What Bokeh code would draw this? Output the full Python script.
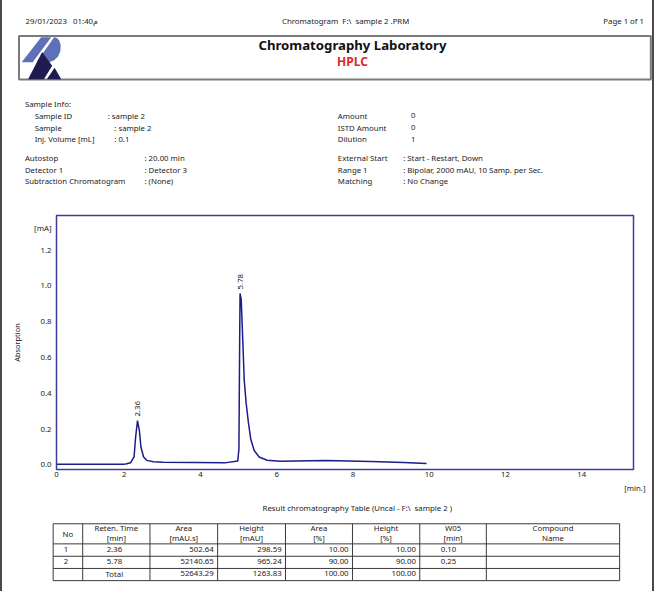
import numpy as np
from bokeh.plotting import figure
from bokeh.layouts import column
from bokeh.models import Range1d, FixedTicker, PrintfTickFormatter, Title
from bokeh.core.properties import value
from bokeh.embed import file_html
from bokeh.resources import INLINE

# ---------------- data ----------------
time_min = [0.23, 1.00, 2.00, 2.04, 2.17, 2.26, 2.30, 2.35, 2.40, 2.44, 2.51, 2.59, 2.77,
            3.02, 3.87, 4.64, 4.98, 5.01, 5.03, 5.04, 5.07, 5.11, 5.15, 5.20, 5.26, 5.32,
            5.41, 5.54, 5.75, 6.09, 7.28, 8.48, 9.33, 9.93]
absorb = [0.002, 0.002, 0.002, 0.003, 0.010, 0.043, 0.152, 0.245, 0.187, 0.096, 0.042, 0.023, 0.015,
          0.013, 0.011, 0.009, 0.020, 0.087, 0.700, 0.955, 0.922, 0.700, 0.468, 0.341, 0.232, 0.142,
          0.078, 0.042, 0.024, 0.018, 0.022, 0.016, 0.011, 0.005]
peak_labels = ["2.36", "5.78"]
x_ticks = [0, 2, 4, 6, 8, 10, 12, 14]
y_ticks = [0.0, 0.2, 0.4, 0.6, 0.8, 1.0, 1.2]
y_unit_tick = 1.32          # where the "[mA]" unit caption sits on the y axis
x_unit_label = "[min.]"
y_unit_label = "[mA]"

NB = "\u00a0"
date_text = "29/01/2023" + NB * 3 + "01:40م"
center_text = "Chromatogram" + NB * 2 + "F:\\" + NB * 2 + "sample 2 .PRM"
page_text = "Page 1 of 1"
table_title = "Result chromatography Table (Uncal - F:\\" + NB * 2 + "sample 2 )"

info_left_labels = ["Sample ID", "Sample", "Inj. Volume [mL]", "Autostop", "Detector 1", "Subtraction Chromatogram"]
info_left_values = [": sample 2", ": sample 2", ": 0.1", ": 20.00 min", ": Detector 3", ": (None)"]
info_right_labels = ["Amount", "ISTD Amount", "Dilution", "External Start", "Range 1", "Matching"]
info_right_values = ["0", "0", "1", ": Start - Restart, Down", ": Bipolar, 2000 mAU, 10 Samp. per Sec.", ": No Change"]

tbl_head1 = ["No", "Reten. Time", "Area", "Height", "Area", "Height", "W05", "Compound"]
tbl_head2 = ["", "[min]", "[mAU.s]", "[mAU]", "[%]", "[%]", "[min]", "Name"]
tbl_no = ["1", "2", ""]
tbl_rt = ["2.36", "5.78", "Total"]
tbl_area = ["502.64", "52140.65", "52643.29"]
tbl_height = ["298.59", "965.24", "1263.83"]
tbl_area_pct = ["10.00", "90.00", "100.00"]
tbl_height_pct = ["10.00", "90.00", "100.00"]
tbl_w05 = ["0.10", "0.25", ""]
tbl_name = ["", "", ""]

# ---------------- layout helpers ----------------
S = 0.975
W = 650
FONT = "Noto Sans"
SMALL = 7.8


def X(r):
    return r * S - 2


def Y(r):
    return r * S


def txt(p, x, y, s, size=SMALL, align="left", color="#222222", style="normal", angle=0.0):
    p.text(x=[x], y=[y], text=[s], text_font=value(FONT), text_font_size=value(f"{size}px"),
           text_align=align, text_baseline="middle", text_color=color, text_font_style=style,
           angle=angle)


def blank(h):
    p = figure(width=W, height=h, x_range=Range1d(0, W), y_range=Range1d(h, 0),
               output_backend="svg", toolbar_location=None, min_border=0,
               min_border_left=0, min_border_right=0, min_border_top=0, min_border_bottom=0,
               x_axis_type=None, y_axis_type=None, frame_align=False)
    p.grid.visible = False
    p.outline_line_color = None
    p.background_fill_color = "white"
    p.border_fill_color = "white"
    return p


# ---------------- header ----------------
HDR_H = 214
hdr = blank(HDR_H)
txt(hdr, X(25.7), Y(21.5), date_text)
txt(hdr, X(354), Y(21.5), center_text, align="center")
txt(hdr, X(660), Y(21.5), page_text, align="right")

hdr.quad(left=X(19), right=X(667), top=Y(36.5), bottom=Y(81), fill_color=None,
         line_color="#7a7a7a", line_width=2)

light = [(21.7, 63.3), (41.7, 37.7), (52, 37.7), (33, 63.3)]
bowl = [(55, 37.7), (57.5, 38.3), (60.3, 41), (61.7, 46), (61.3, 52), (59, 57.5), (55, 61.3),
        (50, 63.3), (37, 63.3)]
dark1 = [(28.3, 80.7), (42.7, 52.7), (53, 67), (44.5, 80.7)]
dark2 = [(47.5, 80.7), (55.5, 69), (62.3, 80.7)]
polys = [light, bowl, dark1, dark2]
hdr.patches(xs=[[X(a) for a, b in pl] for pl in polys], ys=[[Y(b) for a, b in pl] for pl in polys],
            fill_color=["#5e70b8", "#5e70b8", "#1e1b50", "#1e1b50"], line_color=None)

txt(hdr, X(361), Y(45.7), "Chromatography Laboratory", size=13.2, align="center",
    color="#111111", style="bold")
txt(hdr, X(361), Y(62.3), "HPLC", size=12, align="center", color="#e3262b", style="bold")

txt(hdr, X(25), Y(106), "Sample Info:")
left_x = [35, 35, 35, 25, 25, 25]
left_vx = [110, 116.7, 116.7, 147.7, 147.7, 147.7]
rows_y = [118.3, 130.3, 142.3, 161.7, 173.7, 185.3]
right_vx = [421, 421, 421, 413, 413, 413]
for i in range(6):
    txt(hdr, X(left_x[i]), Y(rows_y[i]), info_left_labels[i])
    txt(hdr, X(left_vx[i]), Y(rows_y[i]), info_left_values[i])
    txt(hdr, X(346), Y(rows_y[i]), info_right_labels[i])
    txt(hdr, X(right_vx[i]), Y(rows_y[i]), info_right_values[i])

# ---------------- chromatogram ----------------
x_start, x_end = 0.225, 15.36
y_start, y_end = -0.028, 1.39
CH_H = 282
chart = figure(width=W, height=CH_H, x_range=Range1d(x_start, x_end), y_range=Range1d(y_start, y_end),
               output_backend="svg", toolbar_location=None, frame_align=False,
               min_border_left=54, min_border_right=19, min_border_top=1, min_border_bottom=27)
chart.grid.visible = False
chart.outline_line_color = "#3c3c9c"
chart.outline_line_width = 1.5
chart.border_fill_color = "white"

xt = [max(t, x_start) for t in x_ticks]
chart.xaxis.ticker = FixedTicker(ticks=xt)
chart.xaxis.major_label_overrides = {x_start: "0"}
chart.yaxis.ticker = FixedTicker(ticks=y_ticks + [y_unit_tick])
chart.yaxis.formatter = PrintfTickFormatter(format="%.1f")
chart.yaxis.major_label_overrides = {y_unit_tick: y_unit_label}
for ax in (chart.xaxis, chart.yaxis):
    ax.axis_line_color = None
    ax.major_tick_line_color = None
    ax.minor_tick_line_color = None
    ax.major_tick_out = 0
    ax.major_tick_in = 0
    ax.major_label_text_font = FONT
    ax.major_label_text_font_size = "7.8px"
    ax.major_label_text_color = "#222222"
chart.xaxis.major_label_standoff = 2
chart.yaxis.major_label_standoff = 5
chart.yaxis.axis_label = "Absorption"
chart.yaxis.axis_label_text_font = FONT
chart.yaxis.axis_label_text_font_size = "7.4px"
chart.yaxis.axis_label_text_font_style = "normal"
chart.yaxis.axis_label_text_color = "#222222"
chart.yaxis.axis_label_standoff = 9

chart.line(time_min, absorb, line_color="#1c1c8a", line_width=1.5)

peak_idx = [i for i in range(1, len(absorb) - 1)
            if absorb[i] > absorb[i - 1] and absorb[i] >= absorb[i + 1] and absorb[i] > 0.1]
chart.text(x=[time_min[i] for i in peak_idx], y=[absorb[i] for i in peak_idx], text=peak_labels,
           angle=np.pi / 2, text_align="left", text_baseline="middle", y_offset=-4,
           text_font=value(FONT), text_font_size=value("7.8px"), text_color="#222222")

chart.add_layout(Title(text=x_unit_label, align="right", offset=-12, standoff=2,
                       text_font=FONT, text_font_size="7.8px", text_font_style="normal",
                       text_color="#222222"), "below")

# ---------------- results table ----------------
TB_TOP = HDR_H + CH_H
TB_H = 591 - TB_TOP
tbl = blank(TB_H)


def TY(r):
    return Y(r) - TB_TOP


txt(tbl, X(366), TY(520.7), table_title, align="center")

col_edges = [54, 84.3, 153.3, 222.7, 292.3, 361, 430, 498.3, 635]
row_edges = [536.7, 557.3, 570, 582.5, 595]
tbl.segment(x0=[X(c) for c in col_edges], x1=[X(c) for c in col_edges],
            y0=[TY(row_edges[0])] * len(col_edges), y1=[TY(row_edges[-1])] * len(col_edges),
            line_color="#3a3a3a", line_width=1)
tbl.segment(x0=[X(col_edges[0])] * len(row_edges), x1=[X(col_edges[-1])] * len(row_edges),
            y0=[TY(r) for r in row_edges], y1=[TY(r) for r in row_edges],
            line_color="#3a3a3a", line_width=1)

for j in range(len(tbl_head1)):
    cx = X((col_edges[j] + col_edges[j + 1]) / 2)
    if tbl_head2[j]:
        txt(tbl, cx, TY(541.5), tbl_head1[j], align="center")
        txt(tbl, cx, TY(551.2), tbl_head2[j], align="center")
    else:
        txt(tbl, cx, TY(547), tbl_head1[j], align="center")

columns = [tbl_no, tbl_rt, tbl_area, tbl_height, tbl_area_pct, tbl_height_pct, tbl_w05, tbl_name]
aligns = ["center", "center", "right", "right", "right", "right", "left", "left"]
for r in range(3):
    ry = TY((row_edges[r + 1] + row_edges[r + 2]) / 2 - 0.6)
    for j, colvals in enumerate(columns):
        if not colvals[r]:
            continue
        if aligns[j] == "center":
            cx = X((col_edges[j] + col_edges[j + 1]) / 2 - 2)
        elif aligns[j] == "right":
            cx = X(col_edges[j + 1] - 4)
        else:
            cx = X(col_edges[j] + 21.5)
        txt(tbl, cx, ry, colvals[r], align=aligns[j])

page = column(hdr, chart, tbl, styles={"border-left": "2px solid #4a4a4a",
                                       "border-right": "2px solid #4a4a4a"})

open("out.html", "w").write(file_html(page, INLINE))
